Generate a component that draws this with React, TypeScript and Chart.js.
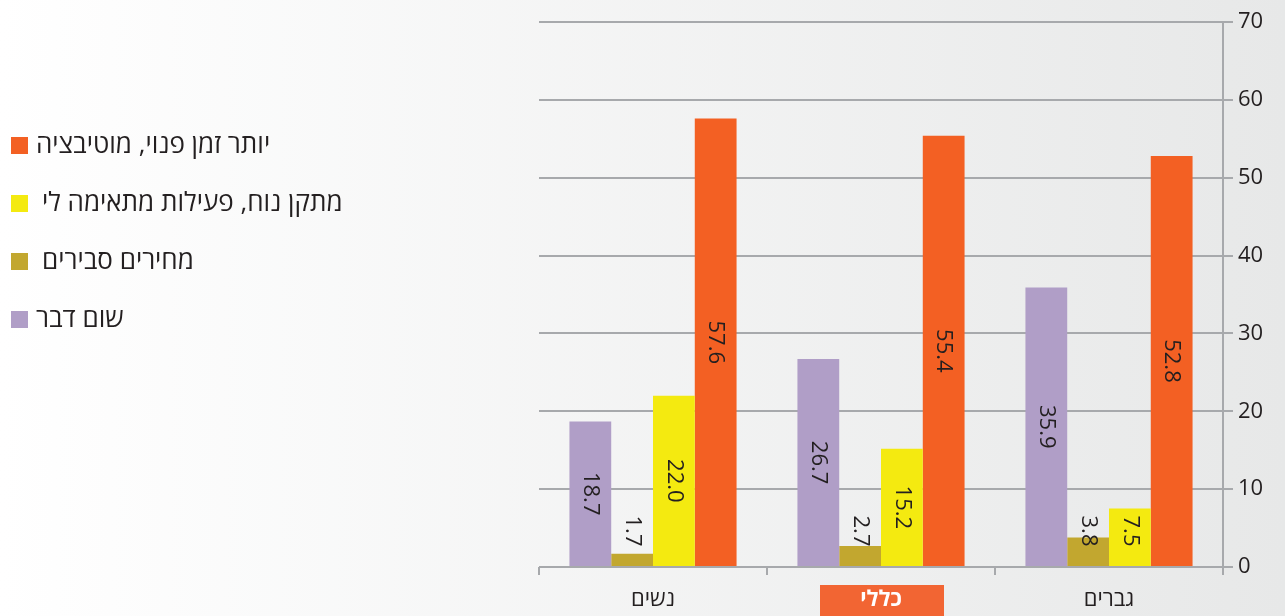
import React, { useEffect, useRef } from "react";
import { Chart, registerables } from "chart.js";

Chart.register(...registerables);

const categories = ["נשים", "כללי", "גברים"];
const seriesNames = ["שום דבר", "מחירים סבירים", "מתקן נוח, פעילות מתאימה לי", "יותר זמן פנוי, מוטיבציה"];
const nothingValues = [18.7, 26.7, 35.9];
const pricesValues = [1.7, 2.7, 3.8];
const facilityValues = [22.0, 15.2, 7.5];
const timeValues = [57.6, 55.4, 52.8];
const seriesColors = ["#b09ec7", "#c2a72f", "#f4ea10", "#f36023"];
const highlightIndex = 1;

const FONT = '"Open Sans", "DejaVu Sans", sans-serif';
const TEXT = "#231f20";
const GRID = "#a7a9ac";

export default function App() {
  const ref = useRef<HTMLCanvasElement | null>(null);

  useEffect(() => {
    document.body.style.margin = "0";
    const canvas = ref.current!;
    const labelPlugin = {
      id: "barLabels",
      afterDatasetsDraw(chart: any) {
        const ctx = chart.ctx;
        ctx.save();
        ctx.fillStyle = TEXT;
        ctx.font = `22px ${FONT}`;
        ctx.textAlign = "center";
        ctx.textBaseline = "middle";
        chart.data.datasets.forEach((ds: any, di: number) => {
          const meta = chart.getDatasetMeta(di);
          meta.data.forEach((el: any, i: number) => {
            const v = ds.data[i] as number;
            const cy = Math.min((el.y + el.base) / 2, el.base - 35);
            ctx.save();
            ctx.translate(el.x, cy);
            ctx.rotate(Math.PI / 2);
            ctx.fillText(v.toFixed(1), 0, 0);
            ctx.restore();
          });
        });
        ctx.restore();
      },
    };
    const highlightPlugin = {
      id: "highlight",
      beforeDraw(chart: any) {
        const ctx = chart.ctx;
        const xs = chart.scales.x;
        const cx = xs.getPixelForValue(highlightIndex);
        ctx.save();
        ctx.fillStyle = "#f26533";
        ctx.fillRect(cx - 61, chart.chartArea.bottom + 18, 124, 40);
        ctx.restore();
      },
    };
    const legendPlugin = {
      id: "sideLegend",
      afterDraw(chart: any) {
        const ctx = chart.ctx;
        ctx.save();
        ctx.font = `26px ${FONT}`;
        ctx.textBaseline = "middle";
        ctx.textAlign = "left";
        const n = chart.data.datasets.length;
        for (let k = 0; k < n; k++) {
          const di = n - 1 - k;
          const ds = chart.data.datasets[di];
          const cy = 145.5 + k * 58;
          ctx.fillStyle = ds.backgroundColor;
          ctx.fillRect(11, cy - 8.5, 17, 17);
          ctx.fillStyle = TEXT;
          const gap = k === 1 || k === 2 ? 14 : 8;
          ctx.fillText(ds.label, 28 + gap, cy);
        }
        ctx.restore();
      },
    };

    const chart = new Chart(canvas, {
      type: "bar",
      data: {
        labels: categories,
        datasets: [nothingValues, pricesValues, facilityValues, timeValues].map((d, i) => ({
          label: seriesNames[i],
          data: d,
          backgroundColor: seriesColors[i],
          borderWidth: 0,
          barPercentage: 1,
          categoryPercentage: 0.733,
        })),
      },
      options: {
        responsive: false,
        animation: false,
        layout: { padding: { left: 539, top: 22, right: 0, bottom: 0 } },
        plugins: { legend: { display: false }, tooltip: { enabled: false } },
        scales: {
          x: {
            offset: true,
            grid: {
              display: true,
              drawOnChartArea: false,
              offset: true,
              color: GRID,
              lineWidth: 2,
              tickLength: 8,
            },
            border: { display: false },
            ticks: {
              padding: 12,
              color: (c: any) => (c.index === highlightIndex ? "#ffffff" : TEXT),
              font: (c: any) => ({
                family: FONT,
                size: 22,
                weight: c.index === highlightIndex ? "bold" : "normal",
              }),
            },
            afterFit: (s: any) => {
              s.height = 49;
            },
          },
          y: {
            position: "right",
            min: 0,
            max: 70,
            ticks: {
              stepSize: 10,
              padding: 5,
              color: TEXT,
              font: { family: FONT, size: 22 },
            },
            grid: { color: GRID, lineWidth: 2, tickLength: 10 },
            border: { display: true, color: GRID, width: 2 },
            afterFit: (s: any) => {
              s.width = 62;
            },
          },
        },
      },
      plugins: [highlightPlugin, labelPlugin, legendPlugin],
    });
    return () => chart.destroy();
  }, []);

  return (
    <div
      style={{
        position: "fixed",
        left: 0,
        top: 0,
        width: 1285,
        height: 616,
        background: "linear-gradient(to right, #ffffff, #e7e8e8)",
      }}
    >
      <canvas ref={ref} width={1285} height={616} style={{ display: "block" }} />
    </div>
  );
}
